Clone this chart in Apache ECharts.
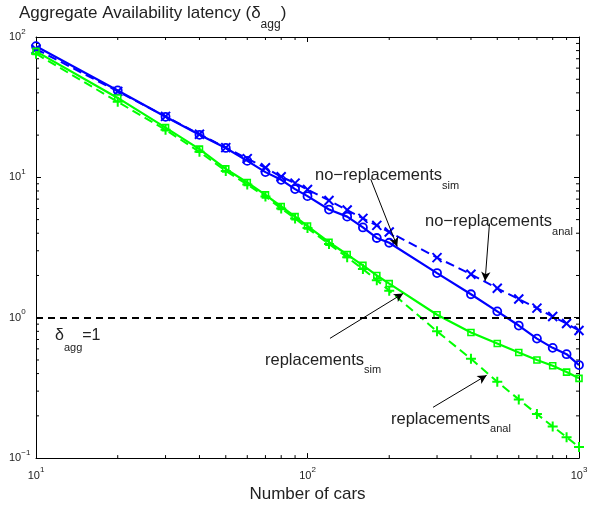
<!DOCTYPE html>
<html>
<head>
<meta charset="utf-8">
<script src="https://cdn.jsdelivr.net/npm/echarts@6/dist/echarts.min.js"></script>
<style>
  html, body { margin: 0; padding: 0; background: #fff; }
  #chart { width: 611px; height: 508px; }
</style>
</head>
<body>
<div id="chart"></div>
<script>
// number of cars (x) and the four latency curves (y)
const cars = [10, 20, 30, 40, 50, 60, 70, 80, 90, 100, 120, 140, 160, 180, 200, 300, 400, 500, 600, 700, 800, 900, 1000];
const noReplSim = [86, 41.6, 27, 20.1, 16.2, 13.1, 10.9, 9.6, 8.25, 7.35, 5.9, 5.25, 4.4, 3.7, 3.42, 2.08, 1.47, 1.11, 0.88, 0.71, 0.61, 0.55, 0.46];
const noReplAnal = [82, 41, 27.2, 20.3, 16.3, 13.6, 11.7, 10.1, 9.1, 8.2, 6.85, 5.85, 5.1, 4.55, 4.08, 2.68, 2.04, 1.62, 1.36, 1.17, 1.02, 0.91, 0.81];
const replSim = [79, 36.8, 22.6, 15.9, 11.5, 9.2, 7.5, 6.2, 5.25, 4.5, 3.45, 2.82, 2.36, 2.0, 1.75, 1.05, 0.785, 0.655, 0.565, 0.5, 0.455, 0.41, 0.37];
const replAnal = [76, 34.5, 21.8, 15.2, 11.1, 8.9, 7.3, 6.0, 5.1, 4.35, 3.35, 2.7, 2.22, 1.85, 1.56, 0.8, 0.51, 0.35, 0.262, 0.206, 0.168, 0.141, 0.12];

// reference level delta_agg = 1
const refLevel = 1;

// minor ticks of the log axes
const xMinorTicks = [20, 30, 40, 50, 60, 70, 80, 90, 200, 300, 400, 500, 600, 700, 800, 900];
const yMinorTicks = [0.2, 0.3, 0.4, 0.5, 0.6, 0.7, 0.8, 0.9, 2, 3, 4, 5, 6, 7, 8, 9, 20, 30, 40, 50, 60, 70, 80, 90];

// annotation arrows: [from, to] in data coordinates
const arrows = [
  [[171, 9.7], [214, 3.22]],
  [[468, 4.69], [451, 1.83]],
  [[121, 0.713], [225, 1.49]],
  [[290, 0.23], [457, 0.389]]
];

const BLUE = '#0000ff';
const GREEN = '#00ff00';
const TXT = '#222';
const FONT = '"Liberation Sans", Arial, Helvetica, sans-serif';

const crossPath = 'path://M0,0L10,10M0,10L10,0';
const plusPath = 'path://M5,0L5,10M0,5L10,5';

function pairs(ys) {
  return cars.map((x, i) => [x, ys[i]]);
}

function tickLabel(value) {
  const e = Math.round(Math.log10(value));
  const s = e < 0 ? '\u2212' + (-e) : String(e);
  return '{b|10}{s|' + s + '}';
}

const tickRich = {
  b: { fontSize: 11, lineHeight: 19, color: TXT, fontFamily: FONT },
  s: { fontSize: 8, lineHeight: 8, verticalAlign: 'top', color: TXT, fontFamily: FONT }
};

function textEl(left, top, main, sub, tail, size, subSize, lh) {
  let text = '{m|' + main + '}{s|' + sub + '}';
  if (tail) {
    text += '{m|' + tail + '}';
  }
  return {
    type: 'text',
    left: left,
    top: top,
    silent: true,
    style: {
      text: text,
      fill: TXT,
      rich: {
        m: { fontSize: size, lineHeight: lh, fontFamily: FONT, fill: TXT },
        s: { fontSize: subSize, lineHeight: 4, verticalAlign: 'bottom', fontFamily: FONT, fill: TXT }
      }
    }
  };
}

const chart = echarts.init(document.getElementById('chart'), null, { renderer: 'canvas' });

const frameLine = { show: true, lineStyle: { color: '#000', width: 1 } };
const majorTick = { show: true, inside: true, length: 5, lineStyle: { color: '#000' } };

const option = {
  animation: false,
  backgroundColor: '#fff',
  grid: { left: 36, right: 32, top: 37, bottom: 44, containLabel: false },
  xAxis: [
    {
      type: 'log', logBase: 10, min: 10, max: 1000, position: 'bottom',
      axisLine: frameLine, axisTick: majorTick,
      splitLine: { show: false },
      axisLabel: { margin: 8, formatter: tickLabel, rich: tickRich },
      name: 'Number of cars', nameLocation: 'middle', nameGap: 27,
      nameTextStyle: { fontSize: 17, color: TXT, fontFamily: FONT }
    },
    {
      type: 'log', logBase: 10, min: 10, max: 1000, position: 'top',
      axisLine: frameLine, axisTick: majorTick,
      splitLine: { show: false },
      axisLabel: { show: false }
    }
  ],
  yAxis: [
    {
      type: 'log', logBase: 10, min: 0.1, max: 100, position: 'left',
      axisLine: frameLine, axisTick: majorTick,
      splitLine: { show: false },
      axisLabel: { margin: 27, align: 'left', formatter: tickLabel, rich: tickRich }
    },
    {
      type: 'log', logBase: 10, min: 0.1, max: 100, position: 'right',
      axisLine: frameLine, axisTick: majorTick,
      splitLine: { show: false },
      axisLabel: { show: false }
    }
  ],
  series: [
    {
      name: 'minor x ticks', type: 'custom', silent: true, z: 1,
      data: xMinorTicks.map(v => [v, 1]),
      renderItem(params, api) {
        const b = api.coord([api.value(0), 0.1]);
        const t = api.coord([api.value(0), 100]);
        return {
          type: 'group',
          children: [
            { type: 'line', shape: { x1: b[0], y1: b[1], x2: b[0], y2: b[1] - 3 }, style: { stroke: '#000', lineWidth: 1 } },
            { type: 'line', shape: { x1: t[0], y1: t[1], x2: t[0], y2: t[1] + 3 }, style: { stroke: '#000', lineWidth: 1 } }
          ]
        };
      }
    },
    {
      name: 'minor y ticks', type: 'custom', silent: true, z: 1,
      data: yMinorTicks.map(v => [100, v]),
      renderItem(params, api) {
        const l = api.coord([10, api.value(1)]);
        const r = api.coord([1000, api.value(1)]);
        return {
          type: 'group',
          children: [
            { type: 'line', shape: { x1: l[0], y1: l[1], x2: l[0] + 3, y2: l[1] }, style: { stroke: '#000', lineWidth: 1 } },
            { type: 'line', shape: { x1: r[0], y1: r[1], x2: r[0] - 3, y2: r[1] }, style: { stroke: '#000', lineWidth: 1 } }
          ]
        };
      }
    },
    {
      name: 'no-replacements anal', type: 'line', data: pairs(noReplAnal),
      symbol: crossPath, symbolSize: 9,
      itemStyle: { color: 'rgba(0,0,0,0)', borderColor: BLUE, borderWidth: 2 },
      lineStyle: { color: BLUE, width: 2, type: [9, 5] },
      z: 3
    },
    {
      name: 'no-replacements sim', type: 'line', data: pairs(noReplSim),
      symbol: 'circle', symbolSize: 8,
      itemStyle: { color: 'rgba(0,0,0,0)', borderColor: BLUE, borderWidth: 1.8 },
      lineStyle: { color: BLUE, width: 2.2 },
      z: 4
    },
    {
      name: 'replacements anal', type: 'line', data: pairs(replAnal),
      symbol: plusPath, symbolSize: 10,
      itemStyle: { color: 'rgba(0,0,0,0)', borderColor: GREEN, borderWidth: 2 },
      lineStyle: { color: GREEN, width: 2, type: [9, 5] },
      z: 3
    },
    {
      name: 'replacements sim', type: 'line', data: pairs(replSim),
      symbol: 'rect', symbolSize: 6,
      itemStyle: { color: 'rgba(0,0,0,0)', borderColor: GREEN, borderWidth: 1.6 },
      lineStyle: { color: GREEN, width: 2.2 },
      z: 4,
      markLine: {
        silent: true, symbol: ['none', 'none'], animation: false,
        label: { show: false },
        lineStyle: { color: '#000', width: 2, type: [7, 5] },
        data: [{ yAxis: refLevel }]
      }
    },
    {
      name: 'arrows', type: 'line', data: [], z: 5,
      markLine: {
        silent: true, symbol: ['none', 'arrow'], symbolSize: [7, 9], animation: false,
        label: { show: false },
        lineStyle: { color: '#000', width: 1, type: 'solid' },
        data: arrows.map(a => [{ coord: a[0] }, { coord: a[1] }])
      }
    }
  ],
  graphic: [
    textEl(19, 5, 'Aggregate Availability latency (\u03b4', 'agg', ')', 17, 12, 34),
    textEl(55, 327.5, '\u03b4', 'agg', '=1', 16, 11, 35),
    textEl(315, 167, 'no\u2212replacements', 'sim', '', 16.5, 11, 31),
    textEl(425, 213, 'no\u2212replacements', 'anal', '', 16.5, 11, 31),
    textEl(265, 351.5, 'replacements', 'sim', '', 16.5, 11, 31),
    textEl(391, 410.5, 'replacements', 'anal', '', 16.5, 11, 31)
  ]
};

chart.setOption(option);
</script>
</body>
</html>
